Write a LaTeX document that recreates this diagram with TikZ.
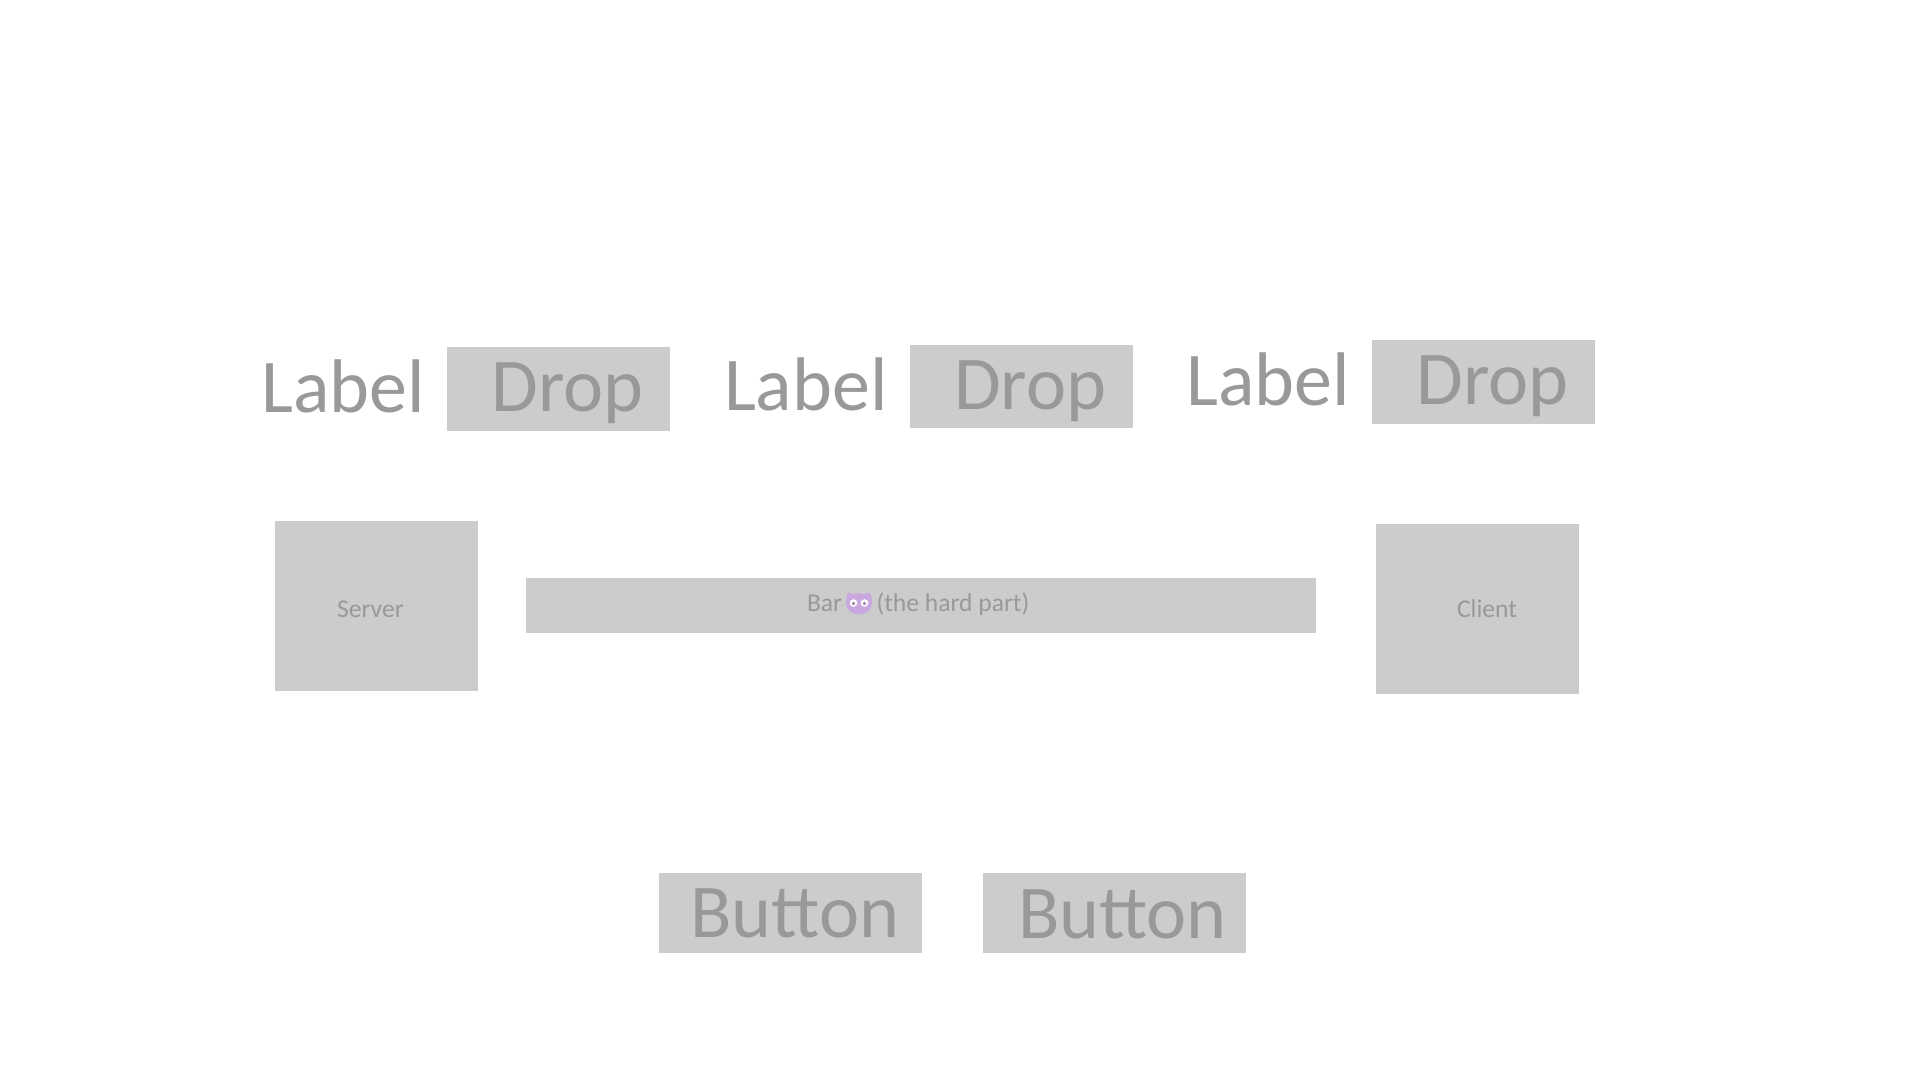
\documentclass[tikz,border=0pt]{standalone}
\usepackage{fontspec}
\setmainfont{Carlito}
\definecolor{boxgrey}{HTML}{CCCCCC}
\definecolor{txtgrey}{HTML}{999999}
\definecolor{owl}{HTML}{C8A8DE}
\definecolor{owldark}{HTML}{9C8AA8}
\tikzset{
  panel/.style={fill=boxgrey,draw=none},
  bigtext/.style={anchor=base west,inner sep=0pt,outer sep=0pt,text=txtgrey,font=\fontsize{76}{80}\selectfont},
  smalltext/.style={anchor=base west,inner sep=0pt,outer sep=0pt,text=txtgrey,font=\fontsize{25.6}{28}\selectfont}
}
\begin{document}
\begin{tikzpicture}[x=1pt,y=-1pt]
\useasboundingbox (0,0) rectangle (1920,1080);
\fill[white] (0,0) rectangle (1920,1080);
% panels
\path[panel] (446.5,347) rectangle (670,430.5);
\path[panel] (910,344.5) rectangle (1133,428);
\path[panel] (1372,340) rectangle (1595,424);
\path[panel] (274.5,521) rectangle (477.5,691);
\path[panel] (1376,523.5) rectangle (1579,693.5);
\path[panel] (526,577.5) rectangle (1316,633);
\path[panel] (659,872.5) rectangle (921.5,952.5);
\path[panel] (983,872.5) rectangle (1245.5,952.5);
% large labels
\node[bigtext] (label1) at (261.5,412) {Label};
\node[bigtext] (drop1) at (491.5,411) {Drop};
\node[bigtext] (label2) at (724,410) {Label};
\node[bigtext] (drop2) at (954,409.5) {Drop};
\node[bigtext] (label3) at (1186.5,405) {Label};
\node[bigtext] (drop3) at (1416.5,404.5) {Drop};
\node[bigtext] (button1) at (690.5,937) {Button};
\node[bigtext] (button2) at (1018,938) {Button};
\node[smalltext] (server) at (337,617) {Server};
\node[smalltext] (client) at (1457,617) {Client};
\node[smalltext] (bar) at (807,611) {Bar};
\node[smalltext] (hard) at (876.5,611) {(the hard part)};
% owl
\fill[owl] (848,592.5) .. controls (850,593) and (852,593.5) .. (854,593.8)
  .. controls (857,593.2) and (861,593.2) .. (864,593.8)
  .. controls (866,593.5) and (868,593) .. (870,592.5)
  .. controls (871.5,596) and (872,600) .. (872,603)
  .. controls (872,610) and (866,614.5) .. (859,614.5)
  .. controls (852,614.5) and (846,610) .. (846,603)
  .. controls (846,600) and (846.5,596) .. (848,592.5) -- cycle;
\fill[white] (853.5,603) circle (3.8);
\fill[white] (864.5,603) circle (3.8);
\fill[owldark] (853.5,603.5) circle (1.8);
\fill[owldark] (864.5,603.5) circle (1.8);
\end{tikzpicture}
\end{document}
